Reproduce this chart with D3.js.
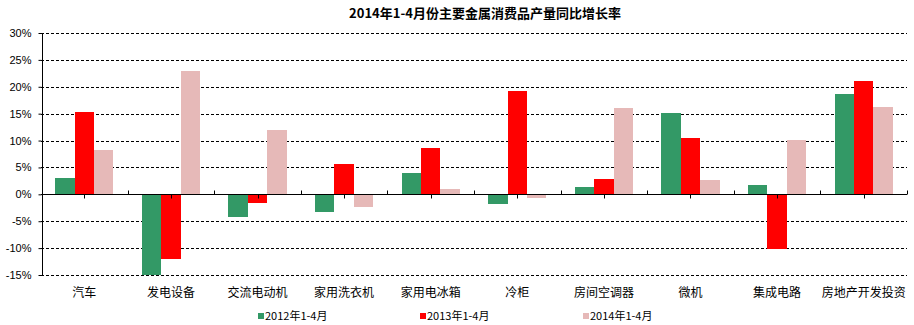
<!DOCTYPE html>
<html>
<head>
  <meta charset="UTF-8">
  <title>2014年1-4月份主要金属消费品产量同比增长率</title>
  <script src="https://d3js.org/d3.v7.min.js"></script>
  <style>
    body { margin: 0; background: #fff; font-family: "Noto Sans CJK SC", "Liberation Sans", sans-serif; }
    .title { font-size: 13px; font-weight: bold; }
    .tick-label { font-size: 11px; fill: #000; }
    .cat-label { font-size: 12px; fill: #000; }
    .legend text { font-size: 11px; fill: #000; }
  </style>
</head>
<body>
  <div id="chart"></div>
  <script>
    const categories = ["汽车", "发电设备", "交流电动机", "家用洗衣机", "家用电冰箱", "冷柜", "房间空调器", "微机", "集成电路", "房地产开发投资"];
    const seriesNames = ["2012年1-4月", "2013年1-4月", "2014年1-4月"];
    const values2012 = [3.1, -15.0, -4.2, -3.2, 3.9, -1.8, 1.3, 15.2, 1.7, 18.6];
    const values2013 = [15.4, -12.0, -1.6, 5.6, 8.7, 19.3, 2.8, 10.4, -10.1, 21.0];
    const values2014 = [8.2, 23.0, 11.9, -2.3, 0.9, -0.7, 16.1, 2.6, 10.1, 16.3];
    const yTicks = [30, 25, 20, 15, 10, 5, 0, -5, -10, -15];
    const colors = ["#339966", "#ff0000", "#e6b9b8"];

    const W = 914, H = 325;
    const plotL = 41, plotR = 907, plotT = 33, plotB = 275;

    const series = [values2012, values2013, values2014];

    const svg = d3.select("#chart").append("svg")
      .attr("width", W)
      .attr("height", H);

    svg.append("text")
      .attr("class", "title")
      .attr("x", 485)
      .attr("y", 18)
      .attr("text-anchor", "middle")
      .text("2014年1-4月份主要金属消费品产量同比增长率");

    const y = d3.scaleLinear().domain([-15, 30]).range([plotB, plotT]);
    const x0 = d3.scaleBand().domain(categories).range([plotL, plotR]).padding(0);
    const bw = x0.bandwidth();
    const x1 = d3.scaleBand().domain(seriesNames).range([bw * 0.165, bw * 0.835]).padding(0);

    // gridlines
    svg.append("g").selectAll("line")
      .data(yTicks.filter(d => d !== 0))
      .enter().append("line")
      .attr("x1", plotL).attr("x2", plotR)
      .attr("y1", d => Math.round(y(d)) + 0.5).attr("y2", d => Math.round(y(d)) + 0.5)
      .attr("stroke", "#000")
      .attr("stroke-dasharray", "3,2")
      .attr("shape-rendering", "crispEdges");

    // bars
    const groups = svg.append("g").selectAll("g")
      .data(categories)
      .enter().append("g")
      .attr("transform", d => `translate(${x0(d)},0)`);

    groups.selectAll("rect")
      .data((d, i) => series.map((s, k) => ({ name: seriesNames[k], value: s[i], k })))
      .enter().append("rect")
      .attr("x", d => x1(d.name))
      .attr("width", x1.bandwidth())
      .attr("y", d => y(Math.max(0, d.value)))
      .attr("height", d => Math.abs(y(d.value) - y(0)))
      .attr("fill", d => colors[d.k])
      .attr("shape-rendering", "crispEdges");

    // y axis
    const yAxis = d3.axisLeft(y)
      .tickValues(yTicks)
      .tickSize(3)
      .tickPadding(7)
      .tickFormat(d => d + "%");
    const yg = svg.append("g")
      .attr("transform", `translate(${plotL + 0.5},0)`)
      .call(yAxis);
    yg.select(".domain").attr("stroke", "#000").attr("shape-rendering", "crispEdges");
    yg.selectAll(".tick line").attr("stroke", "#000");
    yg.selectAll("text").attr("class", "tick-label")
      .style("font-family", "'Liberation Sans', sans-serif");

    // zero line with category ticks
    const zy = Math.round(y(0)) + 0.5;
    svg.append("line")
      .attr("x1", plotL).attr("x2", plotR)
      .attr("y1", zy).attr("y2", zy)
      .attr("stroke", "#000")
      .attr("shape-rendering", "crispEdges");

    const bounds = categories.map(c => x0(c)).concat([plotR]).slice(1);
    svg.append("g").selectAll("line")
      .data(bounds)
      .enter().append("line")
      .attr("x1", d => Math.round(d) + 0.5).attr("x2", d => Math.round(d) + 0.5)
      .attr("y1", zy - 4).attr("y2", zy)
      .attr("stroke", "#000");

    svg.append("g").selectAll("line")
      .data(categories)
      .enter().append("line")
      .attr("x1", d => Math.round(x0(d) + bw / 2) + 0.5).attr("x2", d => Math.round(x0(d) + bw / 2) + 0.5)
      .attr("y1", zy).attr("y2", zy + 4)
      .attr("stroke", "#000");

    // category labels
    svg.append("g").selectAll("text")
      .data(categories)
      .enter().append("text")
      .attr("class", "cat-label")
      .attr("x", d => x0(d) + bw / 2)
      .attr("y", 297)
      .attr("text-anchor", "middle")
      .text(d => d);

    // legend
    const legendX = [258, 420, 583];
    const legend = svg.append("g").attr("class", "legend")
      .selectAll("g")
      .data(seriesNames)
      .enter().append("g")
      .attr("transform", (d, i) => `translate(${legendX[i]},316)`);
    legend.append("rect")
      .attr("x", 0).attr("y", -3)
      .attr("width", 6).attr("height", 6)
      .attr("fill", (d, i) => colors[i]);
    legend.append("text")
      .attr("x", 7)
      .attr("y", 4)
      .text(d => d);
  </script>
</body>
</html>
